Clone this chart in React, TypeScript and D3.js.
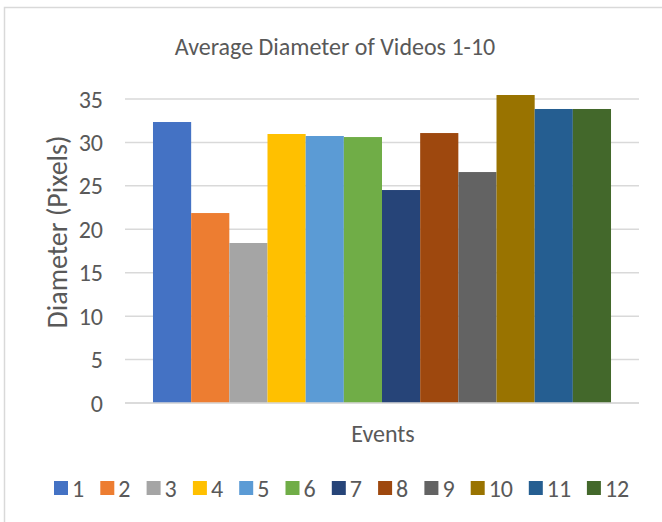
import React from "react";
import * as d3 from "d3";

const seriesNames = ["1", "2", "3", "4", "5", "6", "7", "8", "9", "10", "11", "12"];
const seriesValues = [32.35, 21.87, 18.42, 30.97, 30.74, 30.62, 24.52, 31.08, 26.59, 35.46, 33.85, 33.85];
const seriesColors = ["#4472C4", "#ED7D31", "#A5A5A5", "#FFC000", "#5B9BD5", "#70AD47", "#264478", "#9E480E", "#636363", "#997300", "#255E91", "#43682B"];
const categories = ["Events"];
const yTicks = [0, 5, 10, 15, 20, 25, 30, 35];

const W = 662;
const H = 522;
const plot = { left: 125, right: 639, top: 99, bottom: 403 };
const FONT = "Carlito, Calibri, Lato, 'Open Sans', sans-serif";
const TXT = "#595959";
const GRID = "#d9d9d9";

export default function App() {
  const y = d3.scaleLinear().domain([0, 35]).range([plot.bottom, plot.top]);
  const x0 = d3.scaleBand<string>().domain(categories).range([plot.left, plot.right]).paddingInner(0).paddingOuter(0.0611);
  const x1 = d3.scaleBand<string>().domain(seriesNames).range([0, x0.bandwidth()]).padding(0);

  // legend layout
  const legendY = 488;
  const sq = 14;
  const legendStarts: number[] = [];
  let cx = 54;
  seriesNames.forEach((n) => {
    legendStarts.push(cx);
    cx += 34.5 + n.length * 11.8;
  });

  return (
    <svg width={W} height={H} style={{ position: "absolute", left: 0, top: 0, background: "#fff" }} fontFamily={FONT}>
      <rect x={4.5} y={7.5} width={700} height={600} fill="#fff" stroke={GRID} strokeWidth={1.5} />
      <text x={335} y={46} textAnchor="middle" dominantBaseline="central" fontSize={24} fill={TXT}>
        Average Diameter of Videos 1-10
      </text>
      {yTicks.map((t) => (
        <g key={t}>
          <line x1={plot.left} x2={plot.right} y1={y(t)} y2={y(t)} stroke={GRID} strokeWidth={1.5} />
          <text x={103} y={y(t)} textAnchor="end" dominantBaseline="central" fontSize={24} fill={TXT}>
            {t}
          </text>
        </g>
      ))}
      {categories.map((c) => (
        <g key={c} transform={`translate(${x0(c)},0)`}>
          {seriesNames.map((s, i) => (
            <rect
              key={s}
              x={x1(s)}
              y={y(seriesValues[i])}
              width={x1.bandwidth()}
              height={y(0) - y(seriesValues[i])}
              fill={seriesColors[i]}
            />
          ))}
        </g>
      ))}
      <line x1={plot.left} x2={plot.right} y1={y(0)} y2={y(0)} stroke={GRID} strokeWidth={1.5} />
      <text
        transform={`translate(57,232) rotate(-90)`}
        textAnchor="middle"
        dominantBaseline="central"
        fontSize={28}
        fill={TXT}
      >
        Diameter (Pixels)
      </text>
      <text x={383} y={433} textAnchor="middle" dominantBaseline="central" fontSize={24} fill={TXT}>
        Events
      </text>
      {seriesNames.map((s, i) => (
        <g key={s}>
          <rect x={legendStarts[i]} y={legendY - sq / 2} width={sq} height={sq} fill={seriesColors[i]} />
          <text x={legendStarts[i] + sq + 4} y={legendY} dominantBaseline="central" fontSize={24} fill={TXT}>
            {s}
          </text>
        </g>
      ))}
    </svg>
  );
}
